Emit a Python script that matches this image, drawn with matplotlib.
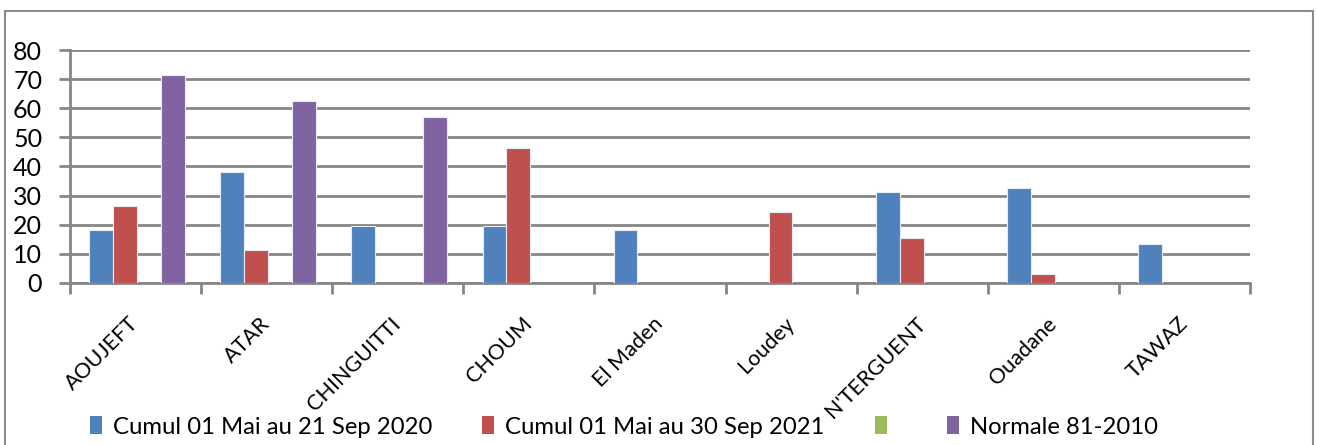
import matplotlib
matplotlib.use("Agg")
import matplotlib.pyplot as plt
from matplotlib.patches import Rectangle, Patch
import numpy as np

categories = ["AOUJEFT", "ATAR", "CHINGUITTI", "CHOUM", "El Maden", "Loudey",
              "N'TERGUENT", "Ouadane", "TAWAZ"]
cumul_2020 = [18.2, 38.0, 19.6, 19.6, 18.2, 0, 31.2, 32.5, 13.4]
cumul_2021 = [26.5, 11.3, 0, 46.3, 0, 24.3, 15.4, 3.1, 0]
series_3 = [0, 0, 0, 0, 0, 0, 0, 0, 0]
normale = [71.5, 62.6, 57.0, 0, 0, 0, 0, 0, 0]
labels = ["Cumul 01 Mai au 21 Sep 2020", "Cumul 01 Mai au 30 Sep 2021", "", "Normale 81-2010"]
colors = ["#4F81BD", "#C0504D", "#9BBB59", "#8064A2"]
yticks = [0, 10, 20, 30, 40, 50, 60, 70, 80]

plt.rcParams['font.family'] = ['Lato', 'DejaVu Sans']

W, H = 1317, 445
fig = plt.figure(figsize=(W/100, H/100), dpi=100)
ax = fig.add_axes([70/W, 1-283/H, (1250-70)/W, (283-50)/H])

x = np.arange(len(categories))
bw = 1/5.5
series = [cumul_2020, cumul_2021, series_3, normale]
for i, (vals, c) in enumerate(zip(series, colors)):
    ax.bar(x + (i-1.5)*bw + 0.01, vals, width=bw, color=c, edgecolor="#e8ecf4", linewidth=0.8, zorder=3)

ax.set_xlim(-0.5, len(categories)-0.5)
ax.set_ylim(0, 80)
ax.set_yticks(yticks)
ax.set_yticklabels([str(v) for v in yticks], fontsize=18)
ax.yaxis.grid(True, color="#868686", linewidth=2, zorder=0)
ax.tick_params(axis='y', length=8, width=2, color="#868686", direction='out', pad=12)

ax.set_xticks(x)
ax.set_xticklabels(categories, fontsize=15.5, rotation=45, ha='right', va='center', rotation_mode='anchor')
ax.tick_params(axis='x', which='major', length=0, pad=27)
ax.set_xticks(np.arange(-0.5, len(categories)), minor=True)
ax.tick_params(axis='x', which='minor', length=8, width=2, color="#868686", direction='out')

for s in ['top', 'right']:
    ax.spines[s].set_visible(False)
for s in ['left', 'bottom']:
    ax.spines[s].set_color("#868686")
    ax.spines[s].set_linewidth(2)

handles = [Patch(facecolor=c, edgecolor='none') for c in colors]
leg = fig.legend(handles, labels, loc='center left', bbox_to_anchor=(90/W, 1-427/H),
                 ncol=4, frameon=False, fontsize=17.2, handlelength=0.5, handleheight=0.75,
                 handletextpad=0.45, columnspacing=2.1, borderaxespad=0, borderpad=0)

fig.patches.append(Rectangle((5/W, 1-450/H), (1313-5)/W, (450-11)/H, transform=fig.transFigure,
                             fill=False, edgecolor="#8c8c8c", linewidth=1.5))

fig.savefig("out.png", dpi=100)
